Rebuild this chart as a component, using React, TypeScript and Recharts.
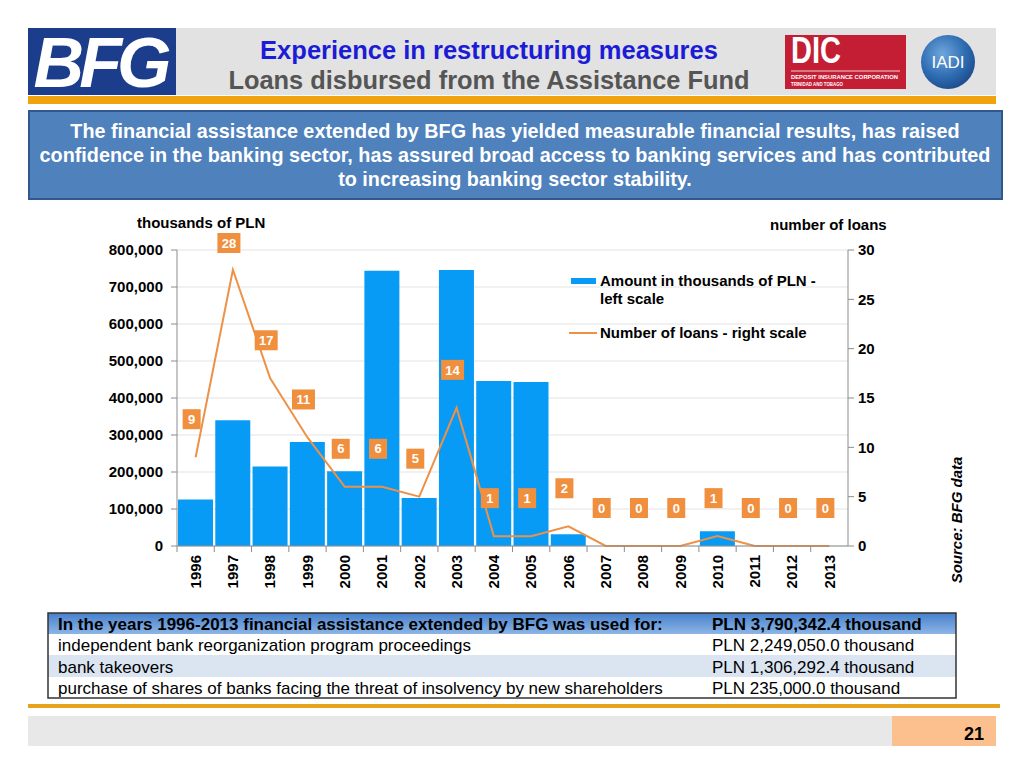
import {
  Bar,
  CartesianGrid,
  ComposedChart,
  LabelList,
  Legend,
  Line,
  XAxis,
  YAxis,
} from 'recharts';

const FONT = '"Liberation Sans", Arial, sans-serif';

const years = [
  '1996', '1997', '1998', '1999', '2000', '2001', '2002', '2003', '2004',
  '2005', '2006', '2007', '2008', '2009', '2010', '2011', '2012', '2013',
];
// thousands of PLN
const amounts = [
  126000, 340000, 215000, 281000, 202000, 744000, 130000, 746000, 446000,
  443000, 32000, 0, 0, 0, 40000, 0, 0, 0,
];
const loanCounts = [9, 28, 17, 11, 6, 6, 5, 14, 1, 1, 2, 0, 0, 0, 1, 0, 0, 0];

const leftTicks = [0, 100000, 200000, 300000, 400000, 500000, 600000, 700000, 800000];
const rightTicks = [0, 5, 10, 15, 20, 25, 30];

const introLines = [
  'The financial assistance extended by BFG has yielded measurable financial results, has raised',
  'confidence in the banking sector, has assured broad access to banking services and has contributed',
  'to increasing banking sector stability.',
];

const tableRows = [
  ['In the years 1996-2013 financial assistance extended by BFG was used for:', 'PLN 3,790,342.4 thousand'],
  ['independent bank reorganization program proceedings', 'PLN 2,249,050.0 thousand'],
  ['bank takeovers', 'PLN 1,306,292.4 thousand'],
  ['purchase of shares of banks facing the threat of insolvency by new shareholders', 'PLN 235,000.0 thousand'],
];

const chartData = years.map((year, i) => ({
  year,
  amount: amounts[i],
  loans: loanCounts[i],
}));

// plot area: x 177..848 on the page
const PLOT_W = 671;
const BAND = PLOT_W / years.length;
const TOP_MARGIN = 50;

const YearTick = (props: any) => {
  const { x, y, payload } = props;
  return (
    <g>
      <line x1={x - BAND / 2} x2={x - BAND / 2} y1={y} y2={y + 6} stroke="#8c8c8c" />
      <text
        transform={`translate(${x},${y + 9}) rotate(-90)`}
        textAnchor="end"
        dy="0.35em"
        fontSize={15}
        fontWeight="bold"
        fill="#000"
      >
        {payload.value}
      </text>
    </g>
  );
};

const renderLoanLabel = (props: any) => {
  const { x, y, value } = props;
  const w = String(value).length > 1 ? 23 : 18;
  const cx = x - 4;
  // keep the boxes from climbing over the axis titles
  const cy = Math.max(y - 38, TOP_MARGIN - 7);
  return (
    <g>
      <rect x={cx - w / 2} y={cy - 10} width={w} height={20} fill="#f0903f" />
      <text x={cx} y={cy} dy="0.36em" textAnchor="middle" fill="#fff" fontSize={13} fontWeight="bold">
        {value}
      </text>
    </g>
  );
};

const renderLegend = (props: any) => {
  const { payload = [] } = props;
  return (
    <div style={{ fontFamily: FONT, fontWeight: 'bold', fontSize: 15, color: '#000' }}>
      {payload.map((entry: any, i: number) => (
        <div key={i} style={{ display: 'flex', alignItems: 'flex-start', marginBottom: 16 }}>
          <svg width={31} height={18} style={{ flex: 'none' }}>
            {entry.type === 'rect' ? (
              <rect x={2} y={6} width={25} height={6} fill={entry.color} />
            ) : (
              <line x1={0} x2={28} y1={9} y2={9} stroke={entry.color} strokeWidth={2} />
            )}
          </svg>
          <span style={{ lineHeight: '18px', width: 235 }}>{entry.value}</span>
        </div>
      ))}
    </div>
  );
};

export default function App() {
  return (
    <div style={{ position: 'absolute', left: 0, top: 0, width: 1024, height: 768, background: '#fff', fontFamily: FONT }}>
      <svg width={1024} height={768} style={{ position: 'absolute', left: 0, top: 0 }}>
        <defs>
          <linearGradient id="hdr" x1="0" y1="0" x2="0" y2="1">
            <stop offset="0" stopColor="#4680cc" />
            <stop offset="1" stopColor="#8db5e6" />
          </linearGradient>
          <radialGradient id="globe" cx="0.4" cy="0.35" r="0.7">
            <stop offset="0" stopColor="#6fa6dc" />
            <stop offset="0.6" stopColor="#2f6db3" />
            <stop offset="1" stopColor="#1b4a8a" />
          </radialGradient>
        </defs>

        {/* header band */}
        <rect x={28} y={28} width={968} height={67} fill="#e2e2e2" />
        <rect x={28} y={28} width={148} height={67} fill="#1b3d8b" />
        <text x={100} y={87} textAnchor="middle" fill="#fff" fontSize={70} fontWeight="bold" fontStyle="italic" letterSpacing={-5}>
          BFG
        </text>
        <text x={489} y={59} textAnchor="middle" fill="#1c1cd6" fontSize={25.5} fontWeight="bold">
          Experience in restructuring measures
        </text>
        <text x={489} y={89} textAnchor="middle" fill="#555" fontSize={25.4} fontWeight="bold">
          Loans disbursed from the Assistance Fund
        </text>

        {/* DIC logo */}
        <rect x={785} y={35} width={121} height={54} fill="#c41e35" />
        <text x={791} y={63} fill="#fff" fontSize={36} fontWeight="bold" textLength={50} lengthAdjust="spacingAndGlyphs">
          DIC
        </text>
        <line x1={791} x2={900} y1={71} y2={71} stroke="#fff" strokeWidth={0.8} />
        <text x={791} y={79} fill="#fff" fontSize={6} fontWeight="bold" textLength={107} lengthAdjust="spacingAndGlyphs">
          DEPOSIT INSURANCE CORPORATION
        </text>
        <text x={791} y={86} fill="#fff" fontSize={6} fontWeight="bold" textLength={52} lengthAdjust="spacingAndGlyphs">
          TRINIDAD AND TOBAGO
        </text>

        {/* IADI logo */}
        <circle cx={948} cy={62} r={27} fill="url(#globe)" />
        <text x={948} y={68} textAnchor="middle" fill="#fff" fontSize={17}>
          IADI
        </text>

        <rect x={28} y={96} width={968} height={8} fill="#f0a30c" />

        {/* intro box */}
        <rect x={29} y={111} width={973} height={88} fill="#4f81bd" stroke="#31588c" strokeWidth={2} />
        {introLines.map((line, i) => (
          <text key={i} x={515} y={138 + i * 24} textAnchor="middle" fill="#fff" fontSize={19.8} fontWeight="bold">
            {line}
          </text>
        ))}

        {/* axis titles */}
        <text x={137} y={228} fill="#000" fontSize={15} fontWeight="bold">thousands of PLN</text>
        <text x={770} y={230} fill="#000" fontSize={15} fontWeight="bold">number of loans</text>
        <text
          transform="translate(962,520) rotate(-90)"
          textAnchor="middle"
          fill="#000"
          fontSize={15}
          fontWeight="bold"
          fontStyle="italic"
        >
          Source: BFG data
        </text>

        {/* table */}
        <rect x={48} y={613} width={908} height={21} fill="url(#hdr)" />
        <rect x={48} y={634} width={908} height={21} fill="#fff" />
        <rect x={48} y={655} width={908} height={22} fill="#dbe5f1" />
        <rect x={48} y={677} width={908} height={21} fill="#fff" />
        <rect x={48} y={613} width={908} height={85} fill="none" stroke="#333" strokeWidth={1.5} />
        {tableRows.map((row, i) => (
          <g key={i} fontSize={17} fontWeight={i === 0 ? 'bold' : 'normal'} fill="#000">
            <text x={58} y={629.5 + i * 21.5}>{row[0]}</text>
            <text x={712} y={629.5 + i * 21.5}>{row[1]}</text>
          </g>
        ))}

        {/* footer */}
        <rect x={28} y={704} width={972} height={4} fill="#e6a41e" />
        <rect x={28} y={716} width={864} height={30} fill="#e8e8e8" />
        <rect x={892} y={716} width={104} height={30} fill="#fbc08e" />
        <text x={984} y={740} textAnchor="end" fill="#000" fontSize={18} fontWeight="bold">21</text>
      </svg>

      <div style={{ position: 'absolute', left: 0, top: 200 }}>
        <ComposedChart
          width={1024}
          height={400}
          data={chartData}
          margin={{ top: TOP_MARGIN, right: 126, bottom: 4, left: 97 }}
          barCategoryGap={1}
          style={{ fontFamily: FONT }}
        >
          <CartesianGrid yAxisId="left" vertical={false} stroke="#e3e3e3" />
          <XAxis
            dataKey="year"
            height={50}
            tick={<YearTick />}
            tickLine={false}
            tickSize={0}
            tickMargin={0}
            axisLine={{ stroke: '#8c8c8c' }}
            interval={0}
          />
          <YAxis
            yAxisId="left"
            width={80}
            domain={[0, 800000]}
            ticks={leftTicks}
            tickFormatter={(v: number) => v.toLocaleString('en-US')}
            tick={{ fill: '#000', fontSize: 15, fontWeight: 'bold' }}
            tickLine={{ stroke: '#8c8c8c' }}
            axisLine={{ stroke: '#8c8c8c' }}
            tickMargin={8}
          />
          <YAxis
            yAxisId="right"
            orientation="right"
            width={50}
            domain={[0, 30]}
            ticks={rightTicks}
            tick={{ fill: '#000', fontSize: 15, fontWeight: 'bold' }}
            tickLine={{ stroke: '#8c8c8c' }}
            axisLine={{ stroke: '#8c8c8c' }}
            tickMargin={4}
          />
          <Legend
            layout="vertical"
            align="center"
            verticalAlign="middle"
            content={renderLegend}
            wrapperStyle={{ position: 'absolute', left: 569, top: 72, width: 280 }}
          />
          <Bar
            yAxisId="left"
            dataKey="amount"
            name="Amount in thousands of PLN - left scale"
            legendType="rect"
            fill="#079bf6"
            isAnimationActive={false}
          />
          <Line
            yAxisId="right"
            dataKey="loans"
            name="Number of loans - right scale"
            legendType="line"
            stroke="#ee9146"
            strokeWidth={2}
            dot={false}
            activeDot={false}
            isAnimationActive={false}
          >
            <LabelList dataKey="loans" content={renderLoanLabel} />
          </Line>
        </ComposedChart>
      </div>
    </div>
  );
}
